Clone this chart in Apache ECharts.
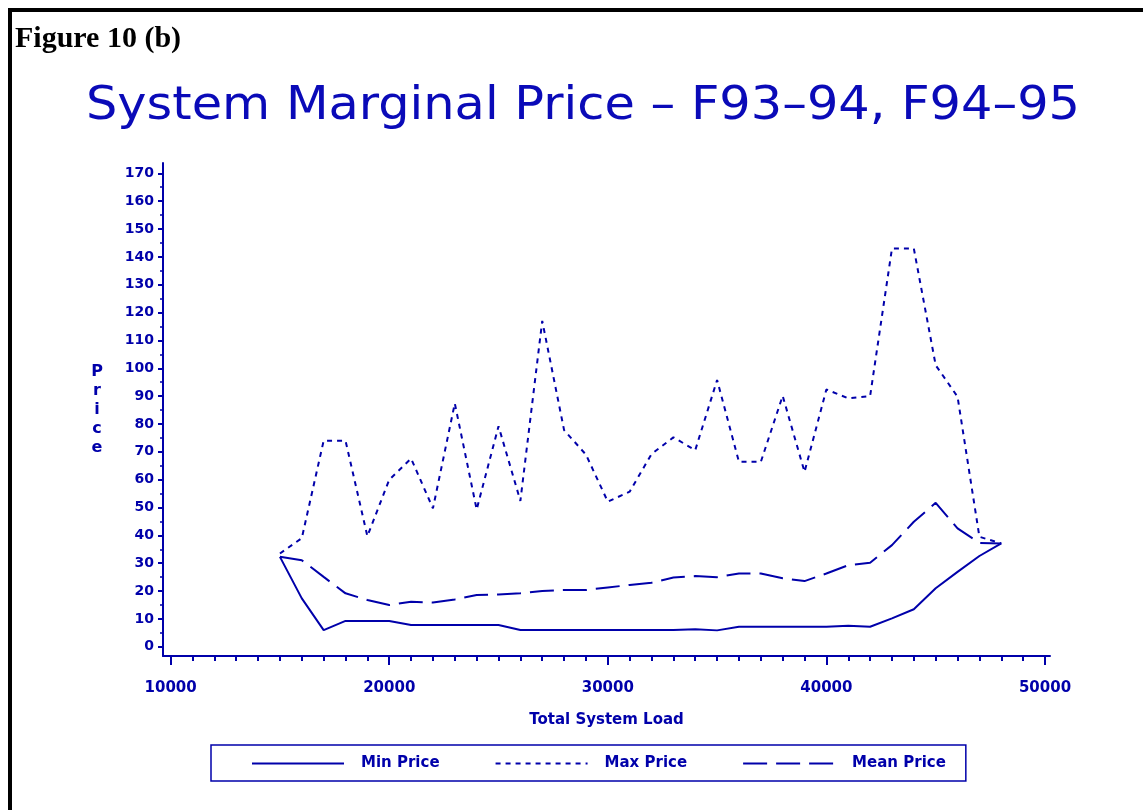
<!DOCTYPE html>
<html>
<head>
<meta charset="utf-8">
<title>System Marginal Price</title>
<script src="https://cdn.jsdelivr.net/npm/echarts@6/dist/echarts.min.js"></script>
<style>
  html, body { margin: 0; padding: 0; background: #fff; }
  #marco {
    position: absolute; left: 8px; top: 8px; width: 1200px; height: 900px;
    border-left: 4px solid #000; border-top: 4px solid #000;
  }
  #charts1 { position: absolute; left: 0; top: 0; width: 1143px; height: 810px; }
</style>
</head>
<body>
<div id="marco"></div>
<div id="charts1"></div>
<script>
// datos
const loads = [15000, 16000, 17000, 18000, 19000, 20000, 21000, 22000, 23000, 24000,
  25000, 26000, 27000, 28000, 29000, 30000, 31000, 32000, 33000, 34000,
  35000, 36000, 37000, 38000, 39000, 40000, 41000, 42000, 43000, 44000,
  45000, 46000, 47000, 48000]

const minPrice = [32.3, 17.4, 6.0, 9.3, 9.3, 9.3, 7.8, 7.8, 7.8, 7.8,
  7.8, 6.0, 6.0, 6.0, 6.0, 6.0, 6.0, 6.0, 6.0, 6.3,
  5.9, 7.2, 7.2, 7.2, 7.2, 7.2, 7.6, 7.2, 10.2, 13.5,
  21.0, 26.9, 32.6, 37.1]

const maxPrice = [33.5, 39.0, 74.0, 74.0, 39.7, 60.0, 67.6, 49.7, 87.4, 49.3,
  79.2, 52.4, 117.0, 77.8, 69.0, 52.1, 55.7, 69.2, 75.2, 70.6,
  95.8, 66.4, 66.4, 90.1, 62.8, 92.4, 89.2, 90.0, 143.0, 143.0,
  101.1, 89.8, 39.5, 37.1]

const meanPrice = [32.3, 31.1, 25.1, 19.2, 16.8, 15.0, 16.2, 15.9, 17.0, 18.6,
  18.8, 19.2, 20.0, 20.4, 20.4, 21.3, 22.2, 23.0, 24.9, 25.4,
  25.0, 26.3, 26.3, 24.6, 23.6, 26.3, 29.3, 30.2, 36.5, 44.9,
  51.7, 42.5, 37.3, 37.1]

const yTicks = [0, 10, 20, 30, 40, 50, 60, 70, 80, 90, 100, 110, 120, 130, 140, 150, 160, 170]
const xTicks = [10000, 20000, 30000, 40000, 50000]

const seriesNames = ['Min Price', 'Max Price', 'Mean Price']

const azul = '#0000aa'

const yMinor = yTicks.slice(1).map(v => v - 5)
const xMinor = []
for (let v = 11000; v < 50000; v += 1000) {
  if (v % 10000 !== 0) xMinor.push(v)
}

const pares = (vals) => loads.map((x, i) => [x, vals[i]])

const getOptionCharts1 = () => {
  const fuenteEje = { color: azul, fontFamily: 'DejaVu Sans', fontWeight: 'bold', fontSize: 14 }
  return {
    animation: false,
    title: {
      text: 'Figure 10 (b)',
      left: 10, top: 19,
      textStyle: { color: '#000', fontFamily: 'Liberation Serif', fontWeight: 'bold', fontSize: 30 }
    },
    // titulo principal estirado a lo ancho como en el original
    graphic: [
      {
        type: 'text',
        x: 583, y: 84, scaleX: 1.074,
        style: {
          text: 'System Marginal Price – F93–94, F94–95',
          textAlign: 'center', textVerticalAlign: 'top',
          fill: '#0a0ab8', fontFamily: 'DejaVu Sans', fontWeight: 'normal', fontSize: 46
        }
      }
    ],
    grid: { left: 163, right: 93, top: 163, bottom: 154, containLabel: false },
    legend: {
      left: 211, top: 745,
      itemWidth: 92, itemHeight: 14, itemGap: 55,
      padding: [11, 20, 10, 40],
      borderColor: azul, borderWidth: 1.5,
      itemStyle: { opacity: 0 },
      textStyle: { color: azul, fontFamily: 'DejaVu Sans', fontWeight: 'bold', fontSize: 15, padding: [0, 0, 0, 12] },
      data: [
        { name: seriesNames[0], itemStyle: { opacity: 0 }, lineStyle: { type: 'solid', width: 2, color: azul } },
        { name: seriesNames[1], itemStyle: { opacity: 0 }, lineStyle: { type: [5, 5], width: 2, color: azul } },
        { name: seriesNames[2], itemStyle: { opacity: 0 }, lineStyle: { type: [24, 9], width: 2, color: azul } }
      ]
    },
    xAxis: [
      {
        type: 'value', min: 9650, max: 50230, position: 'bottom',
        name: 'Total System Load', nameLocation: 'middle', nameGap: 57,
        nameTextStyle: { color: azul, fontFamily: 'DejaVu Sans', fontWeight: 'bold', fontSize: 15 },
        axisLine: { show: true, onZero: false, lineStyle: { color: azul, width: 2 } },
        axisTick: { show: true, customValues: xTicks, length: 9, lineStyle: { color: azul, width: 2 } },
        axisLabel: Object.assign({ customValues: xTicks, margin: 25, formatter: v => String(v) }, fuenteEje, { fontSize: 15 }),
        splitLine: { show: false }
      },
      {
        type: 'value', min: 9650, max: 50230, position: 'bottom',
        axisLine: { show: false, onZero: false },
        axisTick: { show: true, customValues: xMinor, length: 5, lineStyle: { color: azul, width: 2 } },
        axisLabel: { show: false },
        splitLine: { show: false }
      }
    ],
    yAxis: [
      {
        type: 'value', min: -3.3, max: 173.7, position: 'left',
        name: 'P\nr\ni\nc\ne', nameLocation: 'middle', nameRotate: 0, nameGap: 66,
        nameTextStyle: { color: azul, fontFamily: 'DejaVu Sans', fontWeight: 'bold', fontSize: 16, lineHeight: 19, align: 'center' },
        axisLine: { show: true, onZero: false, lineStyle: { color: azul, width: 2 } },
        axisTick: { show: true, customValues: yTicks, length: 5, lineStyle: { color: azul, width: 2 } },
        axisLabel: Object.assign({ customValues: yTicks, margin: 9, formatter: v => String(v) }, fuenteEje),
        splitLine: { show: false }
      },
      {
        type: 'value', min: -3.3, max: 173.7, position: 'left',
        axisLine: { show: false, onZero: false },
        axisTick: { show: true, customValues: yMinor, length: 3, lineStyle: { color: azul, width: 1.5 } },
        axisLabel: { show: false },
        splitLine: { show: false }
      }
    ],
    series: [
      {
        name: seriesNames[0], type: 'line', symbol: 'none',
        lineStyle: { color: azul, width: 2, type: 'solid' },
        itemStyle: { color: azul },
        data: pares(minPrice)
      },
      {
        name: seriesNames[1], type: 'line', symbol: 'none',
        lineStyle: { color: azul, width: 2, type: [5, 5] },
        itemStyle: { color: azul },
        data: pares(maxPrice)
      },
      {
        name: seriesNames[2], type: 'line', symbol: 'none',
        lineStyle: { color: azul, width: 2, type: [24, 9] },
        itemStyle: { color: azul },
        data: pares(meanPrice)
      }
    ]
  }
}

const iniciarCharts = () => {
  const chart1 = echarts.init(document.getElementById('charts1'))
  chart1.setOption(getOptionCharts1())
}

window.addEventListener('load', () => {
  iniciarCharts()
})
</script>
</body>
</html>
